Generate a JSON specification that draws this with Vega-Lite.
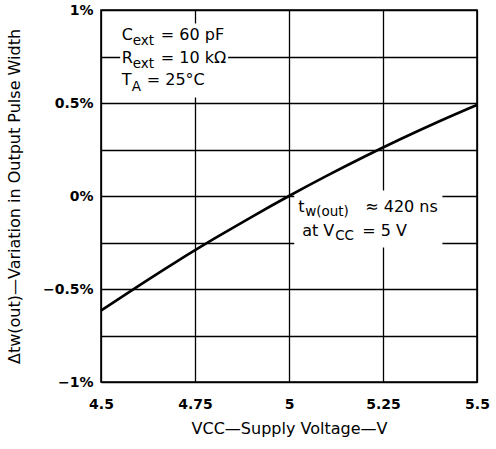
{
  "$schema": "https://vega.github.io/schema/vega-lite/v6.json",
  "width": 376,
  "height": 372,
  "autosize": "none",
  "padding": {"left": 101, "top": 10, "right": 19, "bottom": 67},
  "background": "white",
  "config": {
    "font": "DejaVu Sans",
    "view": {"stroke": "#000", "strokeWidth": 1.6},
    "axis": {
      "grid": true,
      "gridColor": "#000",
      "gridOpacity": 1,
      "gridWidth": 1.3,
      "ticks": false,
      "domain": false,
      "labelColor": "#000",
      "labelFont": "DejaVu Sans",
      "labelFontSize": 14,
      "labelFontWeight": "bold",
      "titleColor": "#000",
      "titleFont": "DejaVu Sans",
      "titleFontSize": 16,
      "titleFontWeight": "normal"
    }
  },
  "datasets": {
    "curve": [
      {"v": 4.5, "pct": -0.616},
      {"v": 4.6, "pct": -0.483},
      {"v": 4.7, "pct": -0.354},
      {"v": 4.8, "pct": -0.231},
      {"v": 4.9, "pct": -0.113},
      {"v": 5.0, "pct": 0.0},
      {"v": 5.1, "pct": 0.108},
      {"v": 5.2, "pct": 0.211},
      {"v": 5.3, "pct": 0.309},
      {"v": 5.4, "pct": 0.402},
      {"v": 5.5, "pct": 0.49}
    ],
    "boxes": [
      {"x1": 4.551, "x2": 4.838, "y1": 0.53, "y2": 0.927},
      {"x1": 5.014, "x2": 5.408, "y1": -0.277, "y2": 0.03}
    ],
    "notes": [
      {"v": 4.5551, "pct": 0.8387, "text": "C"},
      {"v": 4.659, "pct": 0.8387, "text": "= 60 pF"},
      {"v": 4.5551, "pct": 0.7151, "text": "R"},
      {"v": 4.659, "pct": 0.7151, "text": "= 10 kΩ"},
      {"v": 4.5551, "pct": 0.5941, "text": "T"},
      {"v": 4.6216, "pct": 0.5941, "text": "= 25°C"},
      {"v": 5.0244, "pct": -0.0887, "text": "t"},
      {"v": 5.2027, "pct": -0.0887, "text": "≈ 420 ns"},
      {"v": 5.035, "pct": -0.2151, "text": "at"},
      {"v": 5.0909, "pct": -0.2151, "text": "V"},
      {"v": 5.1947, "pct": -0.2151, "text": "= 5 V"}
    ],
    "subs": [
      {"v": 4.5844, "pct": 0.8118, "text": "ext"},
      {"v": 4.5844, "pct": 0.6882, "text": "ext"},
      {"v": 4.5817, "pct": 0.5672, "text": "A"},
      {"v": 5.043, "pct": -0.1102, "text": "w(out)"},
      {"v": 5.1228, "pct": -0.2392, "text": "CC"}
    ]
  },
  "layer": [
    {
      "data": {"name": "boxes"},
      "mark": {"type": "rect", "fill": "white", "stroke": null},
      "encoding": {
        "x": {"field": "x1", "type": "quantitative", "scale": {"domain": [4.5, 5.5], "nice": false, "zero": false},
          "axis": {"values": [4.5, 4.75, 5, 5.25, 5.5], "labelPadding": 15, "titlePadding": 9, "labelFlush": false,
            "labelExpr": "format(datum.value, '~g')",
            "title": "VCC—Supply Voltage—V"}},
        "x2": {"field": "x2"},
        "y": {"field": "y1", "type": "quantitative", "scale": {"domain": [-1, 1], "nice": false, "zero": false},
          "axis": {"values": [-1, -0.75, -0.5, -0.25, 0, 0.25, 0.5, 0.75, 1], "labelPadding": 8, "titlePadding": 20,
            "labelExpr": "datum.value % 0.5 != 0 ? '' : (datum.value < 0 ? '−' : '') + format(abs(datum.value), '~g') + '%'",
            "title": "Δtw(out)—Variation in Output Pulse Width"}},
        "y2": {"field": "y2"}
      }
    },
    {
      "data": {"name": "curve"},
      "mark": {"type": "line", "color": "#000", "strokeWidth": 2.6, "interpolate": "monotone"},
      "encoding": {
        "x": {"field": "v", "type": "quantitative"},
        "y": {"field": "pct", "type": "quantitative"}
      }
    },
    {
      "data": {"name": "notes"},
      "mark": {"type": "text", "align": "left", "baseline": "alphabetic", "fontSize": 16, "color": "#000", "font": "DejaVu Sans"},
      "encoding": {
        "x": {"field": "v", "type": "quantitative"},
        "y": {"field": "pct", "type": "quantitative"},
        "text": {"field": "text"}
      }
    },
    {
      "data": {"name": "subs"},
      "mark": {"type": "text", "align": "left", "baseline": "alphabetic", "fontSize": 13.5, "color": "#000", "font": "DejaVu Sans"},
      "encoding": {
        "x": {"field": "v", "type": "quantitative"},
        "y": {"field": "pct", "type": "quantitative"},
        "text": {"field": "text"}
      }
    }
  ]
}
